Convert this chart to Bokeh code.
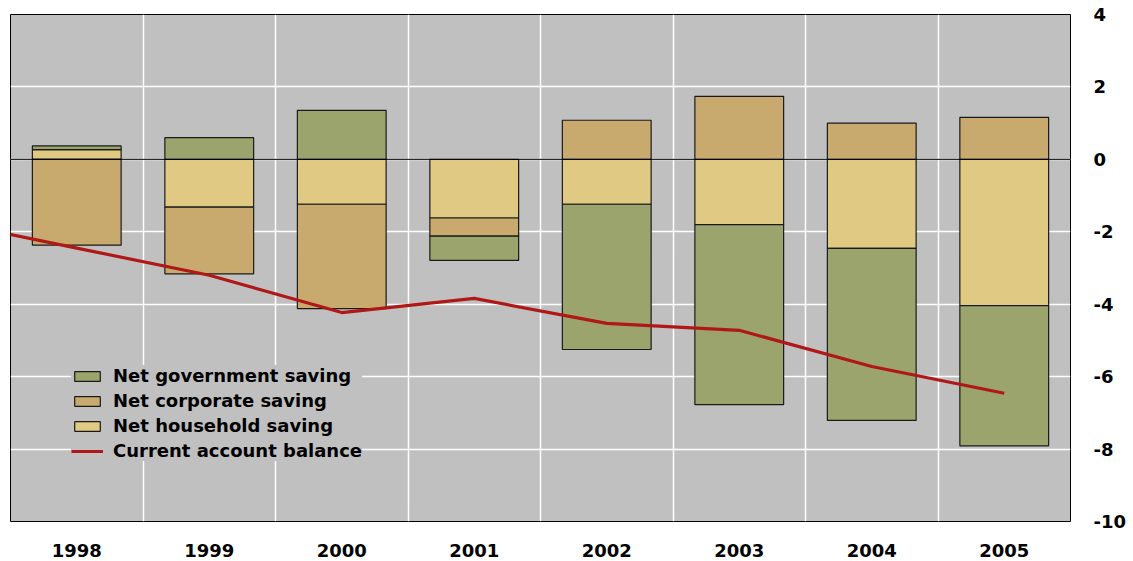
from bokeh.plotting import figure
from bokeh.models import ColumnDataSource, FixedTicker, Span, Legend, LegendItem, Range1d
from bokeh.embed import file_html
from bokeh.resources import INLINE

years = ["1998", "1999", "2000", "2001", "2002", "2003", "2004", "2005"]
gov = [0.10, 0.60, 1.35, -0.67, -4.01, -4.97, -4.75, -3.87]
corp = [-2.37, -1.84, -2.88, -0.50, 1.08, 1.74, 1.00, 1.16]
house = [0.27, -1.32, -1.24, -1.62, -1.24, -1.80, -2.46, -4.04]
ca_years = ["1997"] + years
ca = [-1.70, -2.45, -3.20, -4.23, -3.84, -4.53, -4.72, -5.72, -6.46]
y_ticks = [4, 2, 0, -2, -4, -6, -8, -10]
y_labels = ["4", "2", "0", "-2", "-4", "-6", "-8", "-10"]

series = [("Net household saving", house, "#dfc983"),
          ("Net corporate saving", corp, "#c9aa6e"),
          ("Net government saving", gov, "#9aa46c")]

xc = [i + 0.5 for i in range(len(years))]
pos = [0.0] * len(years)
neg = [0.0] * len(years)

p = figure(width=1133, height=561, output_backend="svg", toolbar_location=None,
           x_range=Range1d(0, len(years)), y_range=Range1d(-10, 4),
           y_axis_location="right",
           min_border_left=10, min_border_top=14, min_border_right=63, min_border_bottom=40)
p.background_fill_color = "#c0c0c0"
p.border_fill_color = "white"
p.outline_line_color = "black"
p.outline_line_width = 1

renderers = {}
for name, vals, color in series:
    bottoms, tops = [], []
    for i, v in enumerate(vals):
        if v >= 0:
            bottoms.append(pos[i]); tops.append(pos[i] + v); pos[i] += v
        else:
            bottoms.append(neg[i]); tops.append(neg[i] + v); neg[i] += v
    src = ColumnDataSource(dict(x=xc, bottom=bottoms, top=tops))
    renderers[name] = p.vbar(x="x", bottom="bottom", top="top", width=0.67, source=src,
                             fill_color=color, line_color="#1a1a1a", line_width=1.2)

zero = Span(location=0, dimension="width", line_color="black", line_width=1)
p.add_layout(zero)

ca_x = [i - 0.5 for i in range(len(ca_years))]
line_r = p.line(ca_x, ca, line_color="#b01818", line_width=3.2)

# grids
p.xgrid.ticker = FixedTicker(ticks=list(range(1, len(years))))
p.xgrid.grid_line_color = "white"
p.xgrid.grid_line_width = 1.5
p.ygrid.ticker = FixedTicker(ticks=y_ticks)
p.ygrid.grid_line_color = "white"
p.ygrid.grid_line_width = 1.5

# axes
p.xaxis.ticker = FixedTicker(ticks=xc)
p.xaxis.major_label_overrides = {x: y for x, y in zip(xc, years)}
p.yaxis.ticker = FixedTicker(ticks=y_ticks)
p.yaxis.major_label_overrides = {t: l for t, l in zip(y_ticks, y_labels)}
for ax in (p.xaxis[0], p.yaxis[0]):
    ax.axis_line_color = None
    ax.major_tick_line_color = None
    ax.minor_tick_line_color = None
    ax.major_label_text_font = "DejaVu Sans"
    ax.major_label_text_font_style = "bold"
    ax.major_label_text_font_size = "18px"
    ax.major_label_text_color = "black"
p.xaxis.major_label_standoff = 16
p.yaxis.major_label_standoff = 17

legend = Legend(items=[
    LegendItem(label="Net government saving", renderers=[renderers["Net government saving"]]),
    LegendItem(label="Net corporate saving", renderers=[renderers["Net corporate saving"]]),
    LegendItem(label="Net household saving", renderers=[renderers["Net household saving"]]),
    LegendItem(label="Current account balance", renderers=[line_r]),
], location=(61, 60))
legend.background_fill_color = "#c0c0c0"
legend.background_fill_alpha = 1
legend.border_line_color = None
legend.margin = 0
legend.padding = 7
legend.spacing = 4
legend.glyph_width = 32
legend.glyph_height = 12
legend.label_height = 20
legend.label_standoff = 10
legend.label_text_font = "DejaVu Sans"
legend.label_text_font_style = "bold"
legend.label_text_font_size = "18px"
legend.label_text_color = "black"
p.add_layout(legend)

open("out.html", "w").write(file_html(p, INLINE))
